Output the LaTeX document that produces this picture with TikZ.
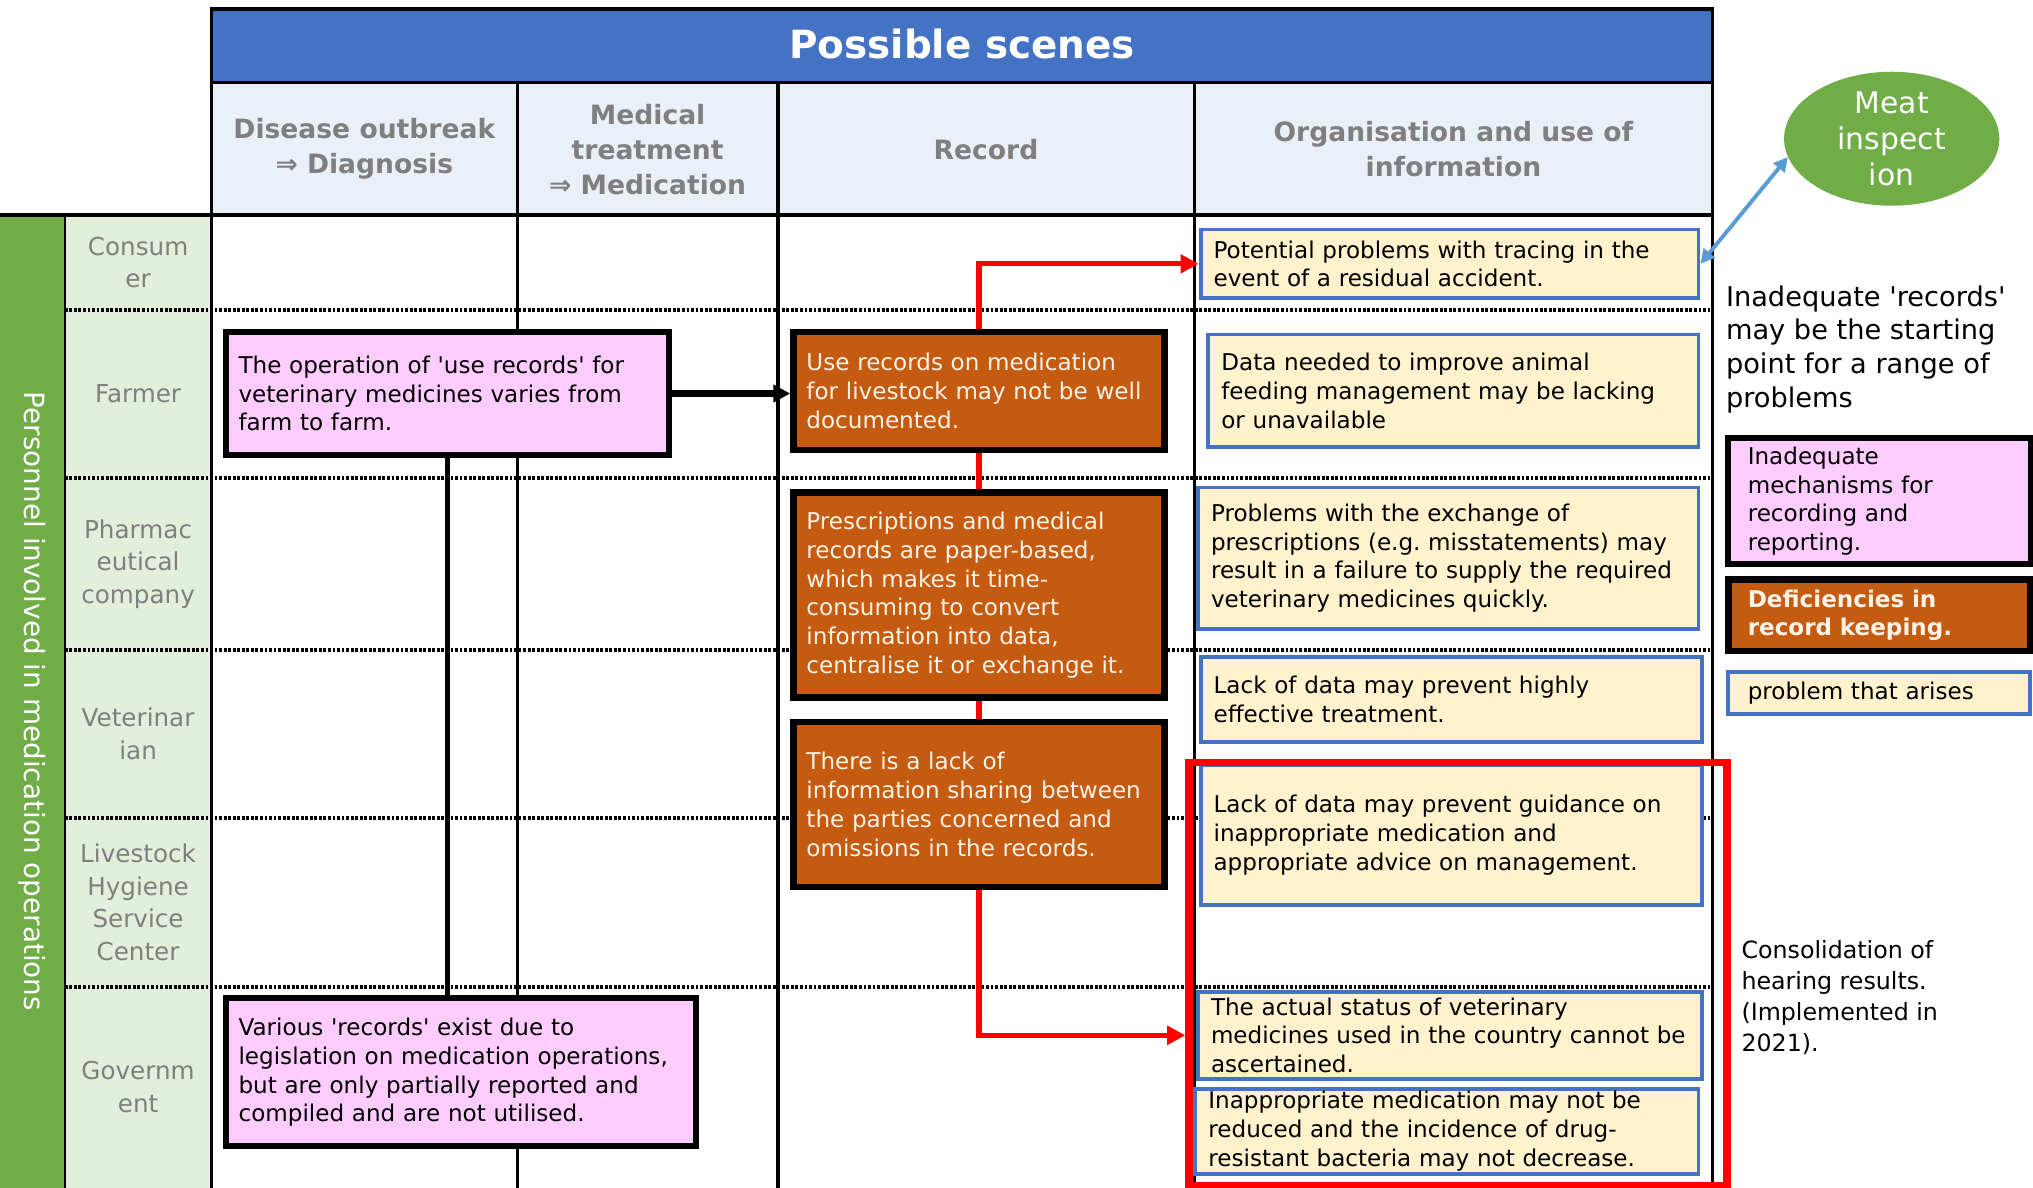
\documentclass[tikz,border=0pt]{standalone}
\usepackage{fontspec}
\setmainfont{DejaVu Sans}
\usetikzlibrary{arrows.meta,positioning,shapes.geometric}
\frenchspacing

\definecolor{sceneblue}{HTML}{4472C4}
\definecolor{headfill}{HTML}{EAF0F8}
\definecolor{headgray}{HTML}{7F7F7F}
\definecolor{staffgreen}{HTML}{70AD47}
\definecolor{rolefill}{HTML}{E2EFDA}
\definecolor{causefill}{HTML}{FFCCFF}
\definecolor{recfill}{HTML}{C55A11}
\definecolor{rectext}{HTML}{FFF2E6}
\definecolor{issuefill}{HTML}{FFF2CC}
\definecolor{linkblue}{HTML}{5B9BD5}

\newcommand{\bodyfont}{\fontsize{17.8}{22.2}\selectfont}
\newcommand{\q}{\textquotesingle}

\begin{document}
\begin{tikzpicture}[x=1pt,y=-1pt,
  head/.style={draw,line width=2pt,fill=headfill,text=headgray,align=center,
    font=\bfseries\fontsize{20.5}{27}\selectfont,minimum height=102pt},
  role/.style={fill=rolefill,text=headgray,align=center,minimum width=113pt,
    font=\fontsize{19}{25}\selectfont,inner sep=0pt},
  boxsize/.style 2 args={minimum width=#1pt,minimum height=#2pt,text width=#1pt-20pt,
    inner xsep=10pt,inner ysep=2pt,align=left,font=\bodyfont},
  cause/.style={draw,line width=4.5pt,fill=causefill},
  rec/.style={draw,line width=5pt,fill=recfill,text=rectext},
  issue/.style={draw=sceneblue,line width=3pt,fill=issuefill},
  row/.style={line width=3pt,dash pattern=on 2.2pt off 1.3pt},
  col/.style={line width=2.5pt},
  redlink/.style={red,line width=4pt},
  redtip/.style={-{Triangle[length=14pt,width=14pt]}}]
\useasboundingbox (0,0) rectangle (1568,916);

\node[draw,line width=2.5pt,fill=sceneblue,text=white,minimum width=1158pt,minimum height=57pt,
  font=\bfseries\fontsize{30}{36}\selectfont] (scenes) at (742,35.5) {\raisebox{3pt}{Possible scenes}};
\node[head,minimum width=236pt] (hdiag) at (281,115) {Disease outbreak\\⇒ Diagnosis};
\node[head,minimum width=201pt] (hmed) at (499.5,115) {Medical\\treatment\\⇒ Medication};
\node[head,minimum width=321pt] (hrec) at (760.5,115) {Record};
\node[head,minimum width=400pt] (hinfo) at (1121,115) {Organisation and use of\\information};

\node[fill=staffgreen,text=white,rotate=-90,minimum width=750pt,minimum height=50pt,inner sep=0pt,
  font=\fontsize{21.5}{26}\selectfont] (staff) at (25,541) {Personnel involved in medication operations};
\node[role,minimum height=73pt] (consumer) at (106.5,202.5) {Consum\\er};
\node[role,minimum height=130pt] (farmer) at (106.5,304) {Farmer};
\node[role,minimum height=132pt] (pharma) at (106.5,435) {Pharmac\\eutical\\company};
\node[role,minimum height=130pt] (vet) at (106.5,566) {Veterinar\\ian};
\node[role,minimum height=130pt] (hygiene) at (106.5,696) {Livestock\\Hygiene\\Service\\Center};
\node[role,minimum height=155pt] (govt) at (106.5,838.5) {Governm\\ent};

\foreach \y in {239,369,501,631,761} \draw[row] (50,\y) -- (1321,\y);
\foreach \x in {163,399,600,921,1321} \draw[col] (\x,64) -- (\x,916);
\draw[line width=2pt] (50,166) -- (50,916);
\draw[line width=3pt] (0,166) -- (1321,166);

\node[cause,boxsize={342}{95}] (opvar) at (345,303.5) {The operation of \q use records\q{} for\\veterinary medicines varies from\\farm to farm.};
\node[cause,boxsize={363}{114}] (various) at (355.5,827) {Various \q records\q{} exist due to\\legislation on medication operations,\\but are only partially reported and\\compiled and are not utilised.};

\node[rec,boxsize={286}{91}] (usedoc) at (755,301.5) {Use records on medication\\for livestock may not be well\\documented.};
\node[rec,boxsize={286}{158}] (paper) at (755,459) {Prescriptions and medical\\records are paper-based,\\which makes it time-\\consuming to convert\\information into data,\\centralise it or exchange it.};
\node[rec,boxsize={286}{127}] (noshare) at (755,620.5) {There is a lack of\\information sharing between\\the parties concerned and\\omissions in the records.};

\node[issue,boxsize={384}{53}] (tracing) at (1118,203.5) {Potential problems with tracing in the\\event of a residual accident.};
\node[issue,boxsize={378}{87}] (feeding) at (1121,301.5) {Data needed to improve animal\\feeding management may be lacking\\or unavailable};
\node[issue,boxsize={386}{109}] (exchange) at (1117,430.5) {Problems with the exchange of\\prescriptions (e.g. misstatements) may\\result in a failure to supply the required\\veterinary medicines quickly.};
\node[issue,boxsize={387}{65}] (therapy) at (1119.5,539.5) {Lack of data may prevent highly\\effective treatment.};
\node[issue,boxsize={387}{108}] (guidance) at (1119.5,644) {Lack of data may prevent guidance on\\inappropriate medication and\\appropriate advice on management.};
\node[issue,boxsize={389}{67}] (status) at (1118.5,798.5) {The actual status of veterinary\\medicines used in the country cannot be\\ascertained.};
\node[issue,boxsize={388}{65}] (resist) at (1116,872.5) {Inappropriate medication may not be\\reduced and the incidence of drug-\\resistant bacteria may not decrease.};
\node[draw=red,line width=5.5pt,minimum width=415pt,minimum height=326pt] (hearing) at (1124.5,751) {};

\node[ellipse,fill=staffgreen,text=white,minimum width=166pt,minimum height=101pt,inner sep=0pt,
  align=center,font=\fontsize{23}{28}\selectfont] (meat) at (1459,107) {Meat\\inspect\\ion};
\node[anchor=north west,inner sep=0pt,align=left,font=\fontsize{21}{26}\selectfont] (startnote) at (1331,220)
  {Inadequate \q records\q\\may be the starting\\point for a range of\\problems};
\node[cause,boxsize={233}{97},inner xsep=15pt,text width=203pt] (keycause) at (1449.5,386.5) {Inadequate\\mechanisms for\\recording and\\reporting.};
\node[rec,boxsize={233}{55},inner xsep=15pt,text width=203pt,font=\bodyfont\bfseries] (keyrec) at (1449.5,474.5) {Deficiencies in\\record keeping.};
\node[issue,boxsize={233}{33},inner xsep=15pt,text width=203pt] (keyissue) at (1449.5,534.5) {problem that arises};
\node[anchor=north west,inner sep=0pt,align=left,font=\fontsize{18.3}{24}\selectfont] (hearnote) at (1343,725)
  {Consolidation of\\hearing results.\\(Implemented in\\2021).};

\draw[line width=5pt,-{Triangle[length=13pt,width=13pt]}] (opvar.east) -- (opvar.east -| usedoc.west);
\draw[line width=4pt] (opvar.south) -- (opvar.south |- various.north);
\draw[redlink,redtip] (usedoc.north) |- (tracing.west);
\draw[redlink] (usedoc.south) -- (paper.north) (paper.south) -- (noshare.north);
\draw[redlink,redtip] (noshare.south) |- (status.west -| hearing.west);
\draw[linkblue,line width=3pt,{Triangle[length=11pt,width=11pt]}-{Triangle[length=11pt,width=11pt]}] (tracing.east) -- (meat.190);
\end{tikzpicture}
\end{document}
